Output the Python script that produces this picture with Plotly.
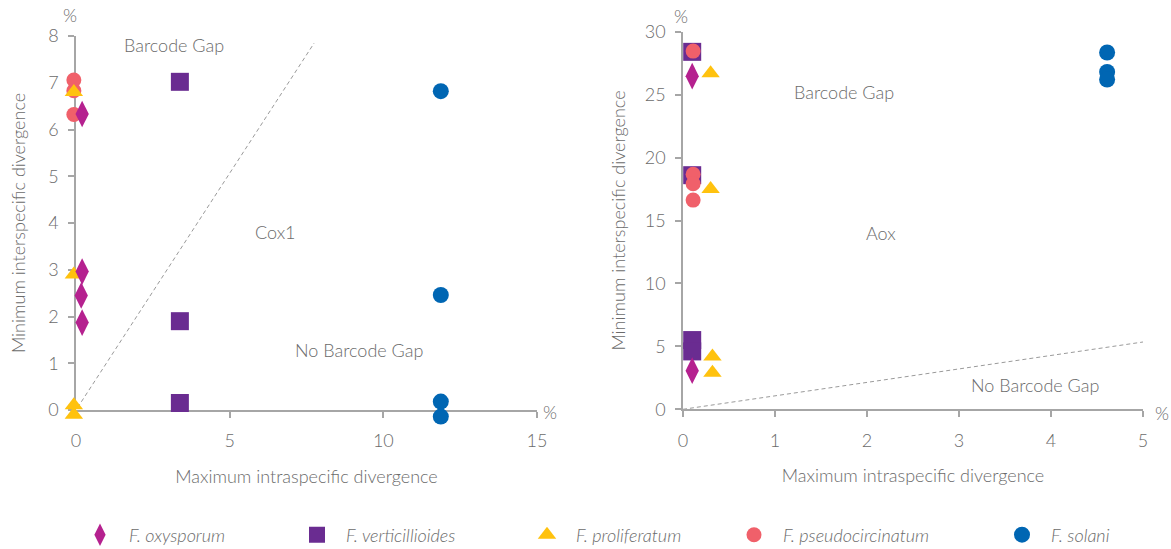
import plotly.graph_objects as go

# ---------------- data ----------------
species = ["F. oxysporum", "F. verticillioides", "F. proliferatum", "F. pseudocircinatum", "F. solani"]
colors = ["#b5218f", "#6a2c91", "#ffc20e", "#f0606a", "#0066b3"]
symbols = ["diamond-tall", "square", "triangle-up", "circle", "circle"]
sizes = [19, 18, 16, 15, 16]
draw_order = [1, 3, 2, 0, 4]  # squares, circles, triangles, diamonds, solani

# Cox1 (left panel)
cox1_oxy_x = [0.2, 0.2, 0.17, 0.2]
cox1_oxy_y = [6.33, 2.96, 2.45, 1.87]
cox1_vert_x = [3.38, 3.38, 3.38]
cox1_vert_y = [7.02, 1.9, 0.15]
cox1_prol_x = [-0.07, -0.07, -0.07, -0.07]
cox1_prol_y = [6.8, 2.9, 0.1, -0.1]
cox1_pseu_x = [-0.07, -0.07, -0.07]
cox1_pseu_y = [7.06, 6.83, 6.32]
cox1_sola_x = [11.87, 11.87, 11.87, 11.87]
cox1_sola_y = [6.82, 2.46, 0.18, -0.14]
cox1_ref_x = [0.05, 7.75]
cox1_ref_y = [0.05, 7.85]

# Aox (right panel)
aox_oxy_x = [0.1, 0.1]
aox_oxy_y = [26.47, 3.07]
aox_vert_x = [0.1, 0.1, 0.1, 0.1]
aox_vert_y = [28.4, 18.6, 5.5, 4.6]
aox_prol_x = [0.3, 0.3, 0.32, 0.32]
aox_prol_y = [26.7, 17.5, 4.2, 2.9]
aox_pseu_x = [0.11, 0.11, 0.11, 0.11]
aox_pseu_y = [28.46, 18.67, 17.92, 16.62]
aox_sola_x = [4.61, 4.61, 4.61]
aox_sola_y = [28.35, 26.8, 26.2]
aox_ref_x = [0.0, 5.05]
aox_ref_y = [0.0, 5.4]

cox1_x_ticks = [0, 5, 10, 15]
cox1_y_ticks = [0, 1, 2, 3, 4, 5, 6, 7, 8]
aox_x_ticks = [0, 1, 2, 3, 4, 5]
aox_y_ticks = [0, 5, 10, 15, 20, 25, 30]

FONT = "Lato"
TXT = "#6b6b6b"
AXC = "#a6a6a6"
W, H = 1171, 549

# panel geometry (pixels)
L_X0, L_X1, L_Y0, L_Y1 = 76, 537, 410, 36        # left: x-left, x-right, y-bottom, y-top
R_X0, R_X1, R_Y0, R_Y1 = 683, 1143, 409.3, 31.7
L_XR, L_YR = [0, 15], [0, 8]
R_XR, R_YR = [0, 5], [0, 30]
PAD = 0.6  # data-unit padding of the hidden marker axes (same scale as the visible axes)


def padded(px0, px1, rng, pad):
    ppu = (px1 - px0) / (rng[1] - rng[0])
    return px0 - pad * ppu, [rng[0] - pad, rng[1]]


fig = go.Figure()

# reference (dashed) lines
fig.add_trace(go.Scatter(x=cox1_ref_x, y=cox1_ref_y, mode="lines", showlegend=False,
                         line=dict(color="#9a9a9a", width=1, dash="4px,3px"),
                         hoverinfo="skip", xaxis="x", yaxis="y"))
fig.add_trace(go.Scatter(x=aox_ref_x, y=aox_ref_y, mode="lines", showlegend=False,
                         line=dict(color="#9a9a9a", width=1, dash="4px,3px"),
                         hoverinfo="skip", xaxis="x2", yaxis="y2"))

cox1_sets = [(cox1_oxy_x, cox1_oxy_y), (cox1_vert_x, cox1_vert_y), (cox1_prol_x, cox1_prol_y),
             (cox1_pseu_x, cox1_pseu_y), (cox1_sola_x, cox1_sola_y)]
aox_sets = [(aox_oxy_x, aox_oxy_y), (aox_vert_x, aox_vert_y), (aox_prol_x, aox_prol_y),
            (aox_pseu_x, aox_pseu_y), (aox_sola_x, aox_sola_y)]

legend_ids = ["legend", "legend2", "legend3", "legend4", "legend5"]
for i in draw_order:
    name = species[i]
    mk = dict(color=colors[i], symbol=symbols[i], size=sizes[i], line=dict(width=0))
    fig.add_trace(go.Scatter(x=cox1_sets[i][0], y=cox1_sets[i][1], mode="markers", name=name,
                             marker=mk, legendgroup=name, legend=legend_ids[i], cliponaxis=False,
                             xaxis="x3", yaxis="y3"))
    fig.add_trace(go.Scatter(x=aox_sets[i][0], y=aox_sets[i][1], mode="markers", name=name,
                             marker=mk, legendgroup=name, showlegend=False, cliponaxis=False,
                             xaxis="x4", yaxis="y4"))

axis_common = dict(showgrid=False, zeroline=False, showline=True, linecolor=AXC, linewidth=1.5,
                   ticks="outside", ticklen=6, tickcolor=AXC, tickwidth=1.5,
                   tickfont=dict(family=FONT, size=18, color=TXT, weight=300),
                   title_font=dict(family=FONT, size=18, color=TXT, weight=300))
hidden = dict(visible=False, showgrid=False, zeroline=False)

lx0, lxr = padded(L_X0, L_X1, L_XR, PAD)
ly0_top = padded(-L_Y0, -L_Y1, L_YR, PAD)  # work in "upward" pixels
ly0, lyr = -ly0_top[0], ly0_top[1]
rx0, rxr = padded(R_X0, R_X1, R_XR, PAD / 3)
ry0_top = padded(-R_Y0, -R_Y1, R_YR, PAD * 2)
ry0, ryr = -ry0_top[0], ry0_top[1]

layout_legends = {}
legend_sym_x = [103, 320, 550, 757, 1025]
for i, lid in enumerate(legend_ids):
    layout_legends[lid] = dict(orientation="h", x=(legend_sym_x[i] - 32) / W, y=1 - 535 / H,
                               xanchor="left", yanchor="middle", itemwidth=48,
                               font=dict(family=FONT, size=18, color=TXT, style="italic", weight=300),
                               bgcolor="rgba(0,0,0,0)")

fig.update_layout(
    width=W, height=H, autosize=False,
    margin=dict(l=0, r=0, t=0, b=0, autoexpand=False),
    paper_bgcolor="white", plot_bgcolor="rgba(0,0,0,0)",
    font=dict(family=FONT, color=TXT),
    xaxis=dict(domain=[L_X0 / W, L_X1 / W], range=L_XR, tickvals=cox1_x_ticks,
               anchor="y", ticklabelstandoff=8,
               title=dict(text="Maximum intraspecific divergence", standoff=20), **axis_common),
    yaxis=dict(domain=[1 - L_Y0 / H, 1 - L_Y1 / H], range=L_YR, tickvals=cox1_y_ticks,
               anchor="x", ticklabelstandoff=6,
               title=dict(text="Minimum interspecific divergence", standoff=18), **axis_common),
    xaxis2=dict(domain=[R_X0 / W, R_X1 / W], range=R_XR, tickvals=aox_x_ticks,
                anchor="y2", ticklabelstandoff=8,
                title=dict(text="Maximum intraspecific divergence", standoff=20), **axis_common),
    yaxis2=dict(domain=[1 - R_Y0 / H, 1 - R_Y1 / H], range=R_YR, tickvals=aox_y_ticks,
                anchor="x2", ticklabelstandoff=6,
                title=dict(text="Minimum interspecific divergence", standoff=14), **axis_common),
    xaxis3=dict(domain=[lx0 / W, L_X1 / W], range=lxr, anchor="y3", **hidden),
    yaxis3=dict(domain=[1 - ly0 / H, 1 - L_Y1 / H], range=lyr, anchor="x3", **hidden),
    xaxis4=dict(domain=[rx0 / W, R_X1 / W], range=rxr, anchor="y4", **hidden),
    yaxis4=dict(domain=[1 - ry0 / H, 1 - R_Y1 / H], range=ryr, anchor="x4", **hidden),
    showlegend=True,
    **layout_legends,
)

ann_font = dict(family=FONT, size=18, color=TXT, weight=300)
annotations = [
    dict(text="Barcode Gap", x=3.2, y=7.8, xref="x", yref="y"),
    dict(text="Cox1", x=6.5, y=3.8, xref="x", yref="y"),
    dict(text="No Barcode Gap", x=9.2, y=1.28, xref="x", yref="y"),
    dict(text="Barcode Gap", x=1.75, y=25.2, xref="x2", yref="y2"),
    dict(text="Aox", x=2.15, y=14.0, xref="x2", yref="y2"),
    dict(text="No Barcode Gap", x=3.83, y=1.94, xref="x2", yref="y2"),
    # unit markers at the axis ends
    dict(text="%", x=70 / W, y=1 - 15 / H, xref="paper", yref="paper"),
    dict(text="%", x=550 / W, y=1 - 412 / H, xref="paper", yref="paper"),
    dict(text="%", x=681 / W, y=1 - 16 / H, xref="paper", yref="paper"),
    dict(text="%", x=1162 / W, y=1 - 413 / H, xref="paper", yref="paper"),
]
for a in annotations:
    fig.add_annotation(showarrow=False, font=ann_font, xanchor="center", yanchor="middle", **a)

fig.write_html("out.html")
